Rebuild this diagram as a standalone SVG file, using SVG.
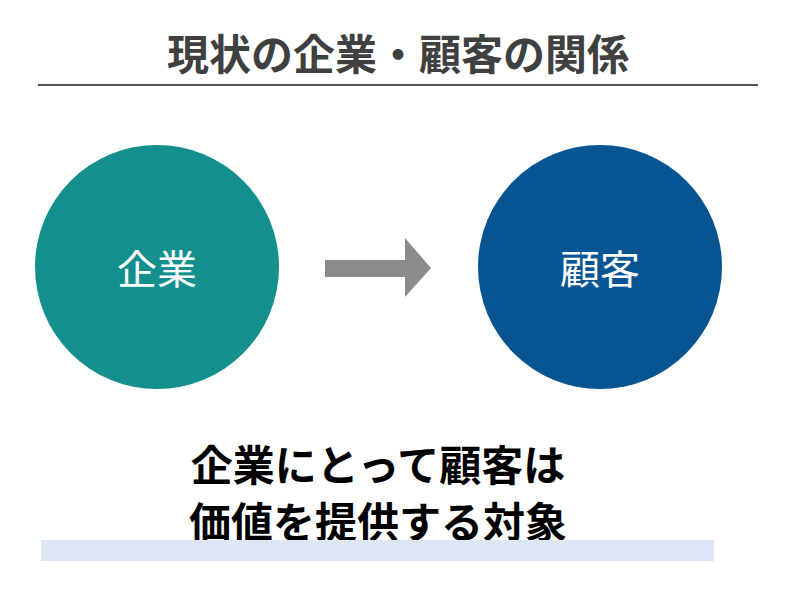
<svg xmlns="http://www.w3.org/2000/svg" width="800" height="592" viewBox="0 0 800 592">
<style>
.t{font-family:"Noto Sans CJK JP","Noto Sans CJK SC",sans-serif;}
.title{font-size:42px;font-weight:bold;fill:#404040;}
.node{font-size:40px;fill:#ffffff;}
.msg{font-size:42px;font-weight:bold;fill:#000000;}
</style>
<rect width="800" height="592" fill="#ffffff"/>
<text class="t title" x="398" y="70" text-anchor="middle">現状の企業・顧客の関係</text>
<line x1="38" y1="85" x2="758" y2="85" stroke="#555555" stroke-width="2"/>
<g id="node-kigyo">
<circle cx="157" cy="267" r="122" fill="#138F8E"/>
<text class="t node" x="157" y="284" text-anchor="middle">企業</text>
</g>
<g id="node-kokyaku">
<circle cx="600" cy="267" r="122" fill="#075493"/>
<text class="t node" x="600" y="284" text-anchor="middle">顧客</text>
</g>
<g id="connectors">
<polygon points="325,260 405,260 405,238 431,268 405,297 405,277 325,277" fill="#8C8C8C"/>
</g>
<g id="message">
<text class="t msg" x="378" y="481" text-anchor="middle">企業にとって顧客は</text>
<text class="t msg" x="378" y="538" text-anchor="middle">価値を提供する対象</text>
<rect x="41" y="540" width="673" height="21" fill="#DCE6F4"/>
</g>
</svg>
